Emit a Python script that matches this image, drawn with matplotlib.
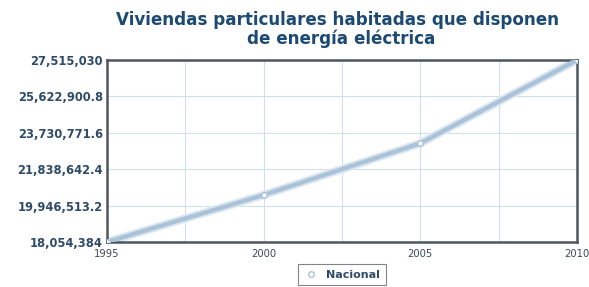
import matplotlib.pyplot as plt
from matplotlib.ticker import FixedLocator, FuncFormatter

years = [1995, 2000, 2005, 2010]
values = [18054384, 20497000, 23185000, 27515030]
y_ticks = [18054384, 19946513.2, 21838642.4, 23730771.6, 25622900.8, 27515030]
y_labels = ["18,054,384", "19,946,513.2", "21,838,642.4", "23,730,771.6", "25,622,900.8", "27,515,030"]
x_grid = [1995, 1997.5, 2000, 2002.5, 2005, 2007.5, 2010]
x_labels = [1995, 2000, 2005, 2010]

fig = plt.figure(figsize=(5.89, 2.87), dpi=100)
ax = fig.add_axes([107 / 589, 1 - 242 / 287, 470 / 589, 182 / 287])

# soft shadow + main line
ax.plot(years, values, color="#dde7ef", lw=6, solid_capstyle="round", zorder=2)
ax.plot(years, values, color="#aac3d8", lw=3.2, solid_capstyle="round", zorder=3,
        marker="o", markersize=4, markerfacecolor="white", markeredgecolor="#aac3d8",
        markeredgewidth=1, label="Nacional")

ax.set_xlim(1995, 2010)
ax.set_ylim(y_ticks[0], y_ticks[-1])
ax.set_yticks(y_ticks)
ax.set_yticklabels(y_labels)
ax.xaxis.set_major_locator(FixedLocator(x_grid))
ax.xaxis.set_major_formatter(FuncFormatter(lambda v, p: str(int(v)) if v in x_labels else ""))
ax.grid(True, color="#cfe0e8", lw=0.8, zorder=0)
ax.tick_params(axis="y", length=0, pad=3, labelsize=8.3, labelcolor="#2f4b68")
ax.tick_params(axis="x", length=0, pad=5, labelsize=7.2, labelcolor="#3a4a5a")
for lbl in ax.get_yticklabels():
    lbl.set_fontweight("bold")
for s in ax.spines.values():
    s.set_color("#4d5660")
    s.set_linewidth(1.8)

fig.text(338 / 589, 1 - 20 / 287, "Viviendas particulares habitadas que disponen",
         ha="center", va="center", fontsize=12.1, fontweight="bold", color="#1d4a73")
fig.text(341 / 589, 1 - 39 / 287, "de energía eléctrica",
         ha="center", va="center", fontsize=12.1, fontweight="bold", color="#1d4a73")

leg = fig.legend(loc="upper center", bbox_to_anchor=(342 / 589, 1 - 264 / 287), fontsize=8,
                 frameon=True, fancybox=False, handlelength=1.2, borderpad=0.5,
                 handletextpad=0.8, borderaxespad=0)
leg.get_frame().set_edgecolor("#666666")
leg.get_frame().set_linewidth(0.8)
for t in leg.get_texts():
    t.set_color("#2f4b68")
    t.set_fontweight("bold")
h = leg.legend_handles[0]
h.set_linestyle("none")

fig.savefig("out.png", dpi=100)
